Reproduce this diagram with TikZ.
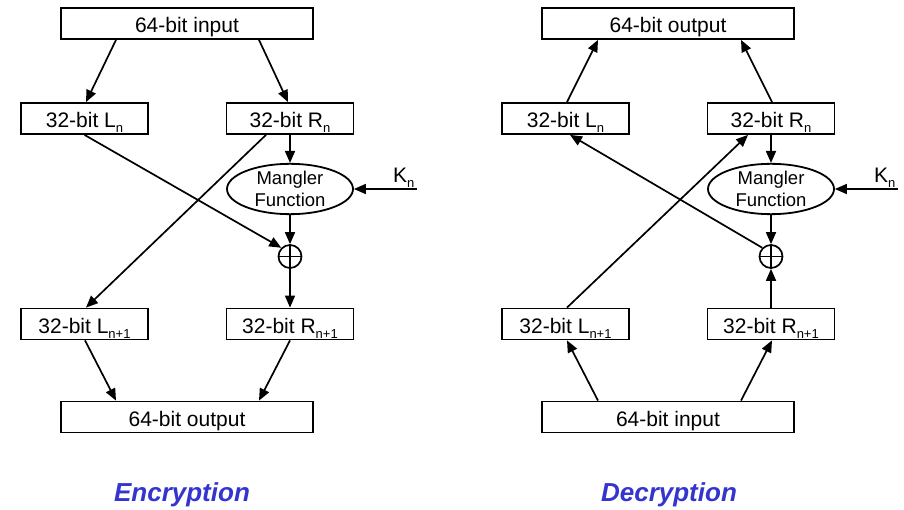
\documentclass[tikz,border=0pt]{standalone}
\usepackage{fontspec}
\setmainfont{Liberation Sans}
\usetikzlibrary{arrows.meta,shapes.geometric}
\definecolor{ttl}{RGB}{52,52,206}
\newcommand{\lsub}[1]{\raisebox{-5pt}{\fontsize{13}{13}\selectfont #1}}
\tikzset{
  box/.style={draw, line width=1.8pt, minimum width=127pt, minimum height=31pt, inner sep=0pt,
    text height=20pt, text depth=1pt, font=\fontsize{21}{24}\selectfont},
  wide/.style={box, minimum width=252pt},
  mangler/.style={draw, ellipse, line width=1.8pt, minimum width=126pt, minimum height=47pt, inner sep=0pt,
    align=center, font=\fontsize{18.5}{22}\selectfont},
  xor/.style={draw, circle, line width=1.7pt, minimum size=23pt, inner sep=0pt},
  kn/.style={inner sep=0pt, anchor=base west, font=\fontsize{21}{24}\selectfont},
  ttlstyle/.style={inner sep=0pt, text=ttl, font=\fontsize{26}{30}\selectfont\bfseries\itshape},
  arr/.style={line width=1.7pt, -{Triangle[length=12pt,width=10pt]}},
  ln/.style={line width=1.7pt}
}
\begin{document}
\begin{tikzpicture}[x=1pt,y=-1pt]
\useasboundingbox (0,0) rectangle (904,510);
% ---------- Encryption ----------
\node[wide] (ein) at (187,23.5) {64-bit input};
\node[box] (eL) at (84.5,118.5) {32-bit L\lsub{n}};
\node[box] (eR) at (290,118.5) {32-bit R\lsub{n}};
\node[mangler] (eM) at (290,189) {Mangler\\Function};
\node[xor] (eX) at (290,256.5) {};
\node[kn] (eK) at (393,183) {K\lsub{n}};
\coordinate (eKe) at (417,189);
\node[box] (eL1) at (84.5,324) {32-bit L\lsub{n+1}};
\node[box] (eR1) at (290,324) {32-bit R\lsub{n+1}};
\node[wide] (eout) at (187,417) {64-bit output};
\node[ttlstyle] (etitle) at (182,495) {Encryption};

\draw[arr] ([xshift=-71pt]ein.south) -- ([xshift=1.5pt]eL.north);
\draw[arr] ([xshift=72pt]ein.south) -- ([xshift=-2pt]eR.north);
\draw[arr] (eR.south) -- (eM.north);
\draw[arr] (eM.south) -- (eX.north);
\draw[arr] (eKe) -- (eM.east);
\draw[ln] (eX.north) -- (eX.south) (eX.west) -- (eX.east);
\draw[arr] (eL.south) -- (eX.135);
\draw[arr] ([xshift=-24pt]eR.south) -- ([xshift=1.5pt]eL1.north);
\draw[arr] (eX.south) -- (eR1.north);
\draw[arr] ([xshift=0.5pt]eL1.south) -- ([xshift=-71pt]eout.north);
\draw[arr] (eR1.south) -- ([xshift=72pt]eout.north);

% ---------- Decryption ----------
\node[wide] (dout) at (668,23.5) {64-bit output};
\node[box] (dL) at (565.5,118.5) {32-bit L\lsub{n}};
\node[box] (dR) at (771,118.5) {32-bit R\lsub{n}};
\node[mangler] (dM) at (771,189) {Mangler\\Function};
\node[xor] (dX) at (771,256.5) {};
\node[kn] (dK) at (874,183) {K\lsub{n}};
\coordinate (dKe) at (898,189);
\node[box] (dL1) at (565.5,324) {32-bit L\lsub{n+1}};
\node[box] (dR1) at (771,324) {32-bit R\lsub{n+1}};
\node[wide] (din) at (668,417) {64-bit input};
\node[ttlstyle] (dtitle) at (669,495) {Decryption};

\draw[arr] ([xshift=1.5pt]dL.north) -- ([xshift=-70pt]dout.south);
\draw[arr] ([xshift=1pt]dR.north) -- ([xshift=73pt]dout.south);
\draw[arr] (dR.south) -- (dM.north);
\draw[arr] (dM.south) -- (dX.north);
\draw[arr] (dKe) -- (dM.east);
\draw[ln] (dX.north) -- (dX.south) (dX.west) -- (dX.east);
\draw[arr] (dX.135) -- ([xshift=4.5pt]dL.south);
\draw[arr] ([xshift=1.5pt]dL1.north) -- ([xshift=-23pt]dR.south);
\draw[arr] (dR1.north) -- (dX.south);
\draw[arr] ([xshift=-70pt]din.north) -- ([xshift=1.5pt]dL1.south);
\draw[arr] ([xshift=73pt]din.north) -- ([xshift=1pt]dR1.south);
\end{tikzpicture}
\end{document}
